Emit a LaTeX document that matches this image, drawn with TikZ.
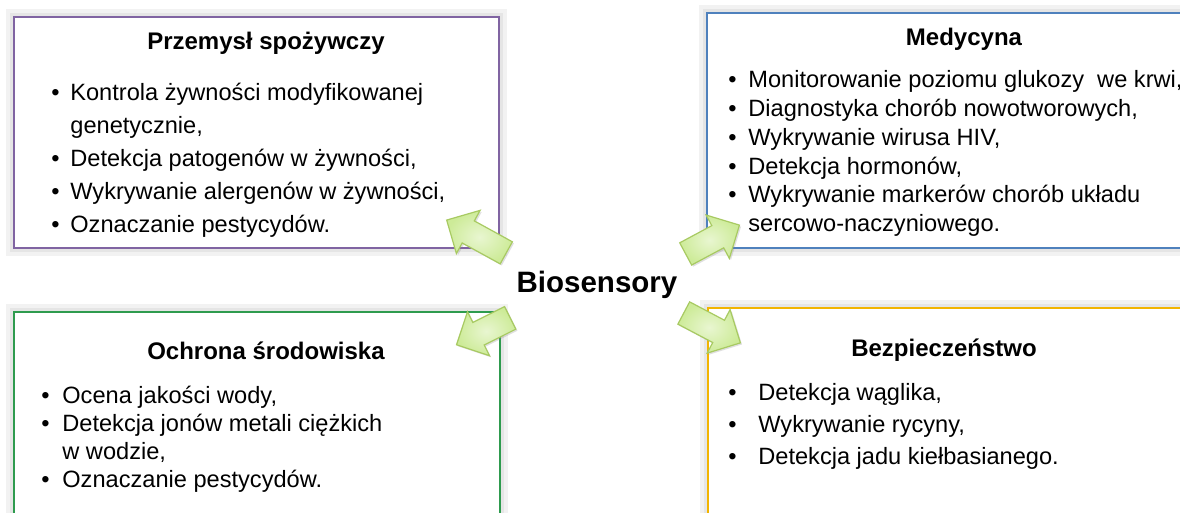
\documentclass[tikz,border=0pt]{standalone}
\usepackage{fontspec}
\setmainfont{Liberation Sans}
\usetikzlibrary{shapes.arrows,shadows}
\definecolor{przemline}{HTML}{8064A2}
\definecolor{medline}{HTML}{4F81BD}
\definecolor{ochrline}{HTML}{2E9B4E}
\definecolor{bezpline}{HTML}{F2B400}
\definecolor{arrfill}{HTML}{CDEB98}
\definecolor{arrline}{HTML}{A8CA62}
\newcommand{\bul}[1]{\makebox[#1][l]{\textbullet}}

\begin{document}
\begin{tikzpicture}[x=0.5pt,y=-0.5pt,
  box/.style={draw=#1, line width=1pt, fill=white, inner sep=0pt,
    preaction={draw=black!5, line width=8pt},
    preaction={draw=black!10, line width=4pt}},
  title/.style={anchor=base, inner sep=0pt, font=\fontsize{12}{14}\selectfont\bfseries},
  item/.style={anchor=base west, inner sep=0pt, font=\fontsize{11.8}{14}\selectfont},
  bigarrow/.style={single arrow, draw=arrline, line width=0.6pt,
    inner color=arrfill!45!white, outer color=arrfill,
    single arrow head extend=6pt, inner xsep=0pt, inner ysep=6pt,
    drop shadow={opacity=0.25, shadow xshift=0.8pt, shadow yshift=-0.8pt}}]
\clip (0,0) rectangle (1180,513);
\fill[white] (0,0) rectangle (1180,513);

\node[box=przemline, minimum width=242.5pt, minimum height=115.5pt] (przemysl) at (256.5,132.5) {};
\node[box=medline, minimum width=246.5pt, minimum height=117.5pt] (medycyna) at (953.5,130.5) {};
\node[box=ochrline, minimum width=243pt, minimum height=109pt] (ochrona) at (257,421) {};
\node[box=bezpline, minimum width=246pt, minimum height=111pt] (bezp) at (954,419) {};

\node[title] (przemysl-t) at (266,50) {Przemysł spożywczy};
\node[title] (medycyna-t) at (964,46) {Medycyna};
\node[title] (ochrona-t) at (266,360) {Ochrona środowiska};
\node[title] (bezp-t) at (944,357) {Bezpieczeństwo};

\foreach \t [count=\i] in {{\bul{9.5pt}Kontrola żywności modyfikowanej},
    {\hspace{9.5pt}genetycznie,}, {\bul{9.5pt}Detekcja patogenów w żywności,},
    {\bul{9.5pt}Wykrywanie alergenów w żywności,}, {\bul{9.5pt}Oznaczanie pestycydów.}}
  \node[item] (przemysl-\i) at (51,{101+33*(\i-1)}) {\t};

\foreach \t [count=\i] in {{\bul{10pt}Monitorowanie poziomu glukozy~ we krwi,},
    {\bul{10pt}Diagnostyka chorób nowotworowych,}, {\bul{10pt}Wykrywanie wirusa HIV,},
    {\bul{10pt}Detekcja hormonów,}, {\bul{10pt}Wykrywanie markerów chorób układu},
    {\hspace{10pt}sercowo-naczyniowego.}}
  \node[item] (medycyna-\i) at (728,{88+28.7*(\i-1)}) {\t};

\foreach \t [count=\i] in {{\bul{10.5pt}Ocena jakości wody,},
    {\bul{10.5pt}Detekcja jonów metali ciężkich}, {\hspace{10.5pt}w wodzie,},
    {\bul{10.5pt}Oznaczanie pestycydów.}}
  \node[item] (ochrona-\i) at (41,{403.5+28*(\i-1)}) {\t};

\foreach \t [count=\i] in {{\bul{15pt}Detekcja wąglika,}, {\bul{15pt}Wykrywanie rycyny,},
    {\bul{15pt}Detekcja jadu kiełbasianego.}}
  \node[item] (bezp-\i) at (728,{401+32*(\i-1)}) {\t};

\node[anchor=base, inner sep=0pt, font=\fontsize{14.75}{16}\selectfont\bfseries] (bio) at (597,293) {Biosensory};

\node[bigarrow, minimum height=34pt, rotate=151.2] (a-przemysl) at (482,239.5) {};
\node[bigarrow, minimum height=30.5pt, rotate=28.2] (a-medycyna) at (707,242.5) {};
\node[bigarrow, minimum height=30pt, rotate=206.6] (a-ochrona) at (489,328.5) {};
\node[bigarrow, minimum height=32pt, rotate=-27.8] (a-bezp) at (706.5,325) {};

\end{tikzpicture}
\end{document}
